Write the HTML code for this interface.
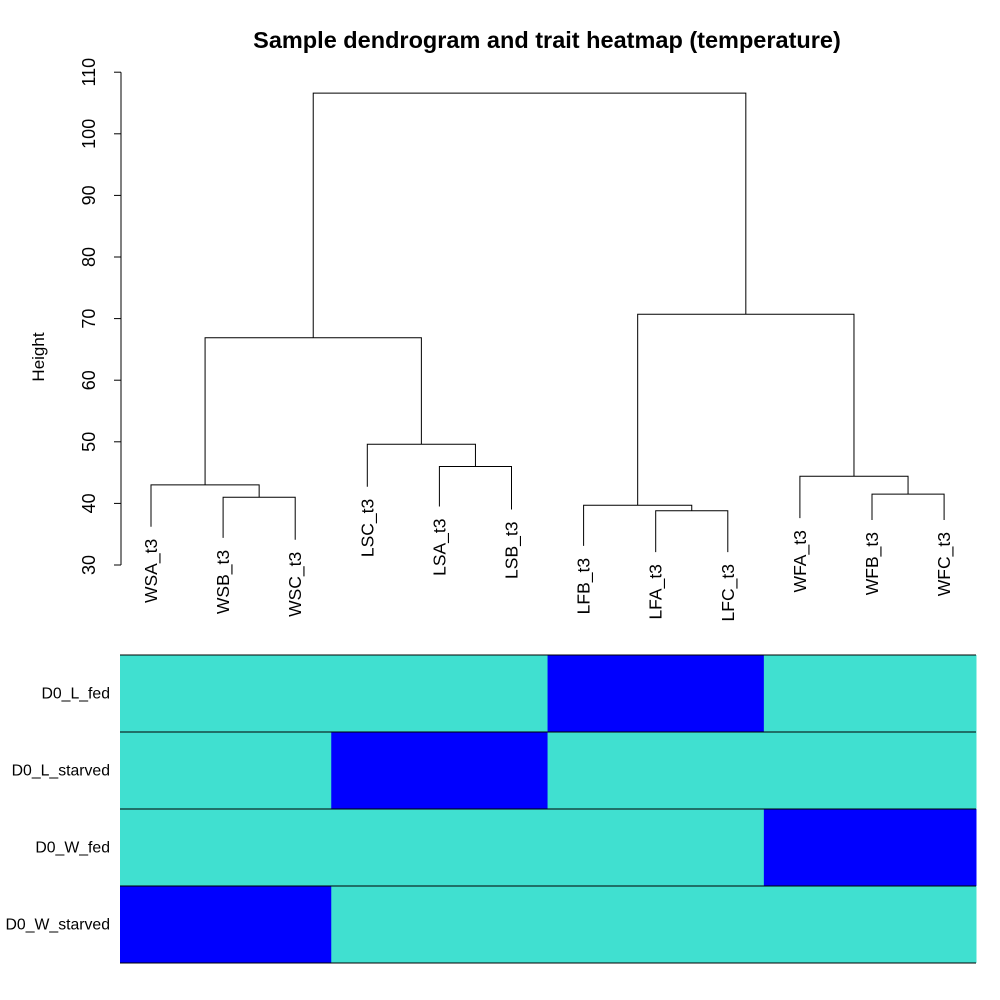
<!DOCTYPE html>
<html><head><meta charset="utf-8"><style>body{margin:0;background:#fff}svg{display:block;font-family:"Liberation Sans",Arial,sans-serif}</style></head>
<body>
<svg id="c" width="1000" height="1000"></svg>
<script>
const leaves=["WSA_t3","WSB_t3","WSC_t3","LSC_t3","LSA_t3","LSB_t3","LFB_t3","LFA_t3","LFC_t3","WFA_t3","WFB_t3","WFC_t3"];
const leafBottom=[36.2,34.4,34.1,42.7,39.5,39.0,33.1,32.1,32.1,37.6,37.3,37.3];
// merges: [left, right, height]; negative = leaf index (-(i+1)), positive = merge number (1-based)
const merges=[[-2,-3,41.0],[-1,1,43.0],[-5,-6,46.0],[-4,3,49.6],[2,4,66.9],[-8,-9,38.8],[-7,6,39.7],[-11,-12,41.5],[-10,8,44.4],[7,9,70.7],[5,10,106.6]];
const yTicks=[30,40,50,60,70,80,90,100,110];
const traits=["D0_L_fed","D0_L_starved","D0_W_fed","D0_W_starved"];
const traitVals=[[0,0,0,0,0,0,1,1,1,0,0,0],[0,0,0,1,1,1,0,0,0,0,0,0],[0,0,0,0,0,0,0,0,0,1,1,1],[1,1,1,0,0,0,0,0,0,0,0,0]];
const NS="http://www.w3.org/2000/svg",svg=document.getElementById('c');
function el(t,a,txt){const e=document.createElementNS(NS,t);for(const k in a)e.setAttribute(k,a[k]);if(txt!=null)e.textContent=txt;svg.appendChild(e);return e;}
const y=v=>565-(v-30)*61.6/10;
const x=i=>151+i*72.1;
let t=el('text',{x:547,y:48,'text-anchor':'middle','font-size':23.5,'font-weight':'bold'},'Sample dendrogram and trait heatmap (temperature)');

let ax=el('line',{x1:121,x2:121,y1:y(30),y2:y(110),stroke:'#000'});

yTicks.forEach(v=>{let l=el('line',{x1:114,x2:121,y1:y(v),y2:y(v),stroke:'#000'});

let tt=el('text',{x:95,y:y(v),'text-anchor':'middle','font-size':18,transform:`rotate(-90 95 ${y(v)})`},v);
});
let yt=el('text',{x:44,y:357,'text-anchor':'middle','font-size':17,transform:'rotate(-90 44 357)'},'Height');

const pos=[];
function node(n){if(n<0){const i=-n-1;return [x(i),leafBottom[i]];}return [pos[n-1],merges[n-1][2]];}
merges.forEach((m,k)=>{const a=node(m[0]),b=node(m[1]),h=m[2];pos[k]=(a[0]+b[0])/2;
let p=el('path',{d:`M${a[0]} ${y(a[1])}V${y(h)}H${b[0]}V${y(b[1])}`,fill:'none',stroke:'#000','stroke-width':1});
});
leaves.forEach((s,i)=>{const yy=y(leafBottom[i])+12;
let l=el('text',{x:x(i)+6,y:yy,'text-anchor':'end','font-size':17.5,transform:`rotate(-90 ${x(i)+6} ${yy})`},s);
});
const hx0=120,hx1=976,hy0=655,rh=77;
const edge=c=>c<=0?hx0:(c>=leaves.length?hx1:x(c-0.5));
traits.forEach((tr,r)=>{traitVals[r].forEach((v,c)=>{const x0=edge(c),x1=edge(c+1);
let rc=el('rect',{x:x0,y:hy0+r*rh,width:x1-x0+0.5,height:rh,fill:v?'#0000FF':'#40E0D0'});
});
let lb=el('text',{x:110,y:hy0+r*rh+rh/2+5,'text-anchor':'end','font-size':15.8},tr);
});
for(let r=0;r<=traits.length;r++){let l=el('line',{x1:hx0,x2:hx1,y1:hy0+r*rh,y2:hy0+r*rh,stroke:'#000'});
}
</script>
</body></html>
